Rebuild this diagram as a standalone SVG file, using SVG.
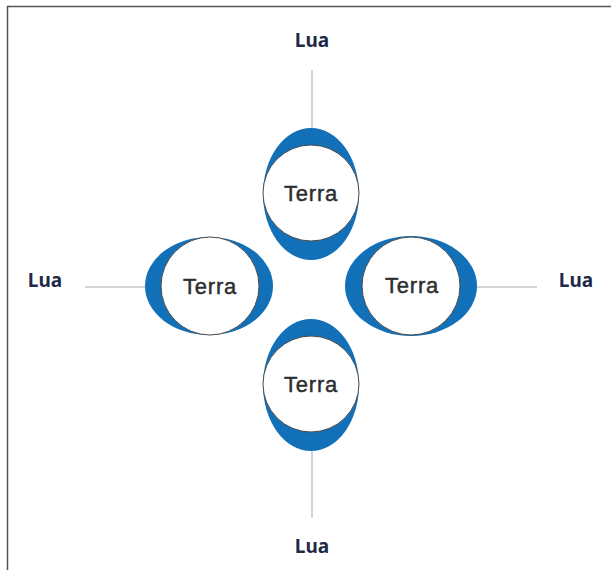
<svg xmlns="http://www.w3.org/2000/svg" width="611" height="570" viewBox="0 0 611 570">
  <style>
    .bulge { fill: #1170b8; }
    .earth { fill: #ffffff; stroke: #4a4a4a; stroke-width: 1; }
    .terra { font-family: "Liberation Sans", Arial, sans-serif; font-size: 22px; fill: #2e2e2e; stroke: #2e2e2e; stroke-width: 0.45; text-anchor: middle; letter-spacing: 0.8px; }
    .lua { font-family: "Noto Sans", "Open Sans", sans-serif; font-weight: bold; font-size: 19px; fill: #1e2a48; text-anchor: middle; }
    .link { stroke: #c4c4c4; stroke-width: 1.5; fill: none; }
  </style>
  <rect width="611" height="570" fill="#ffffff"/>
  <!-- frame -->
  <path d="M7.5 570 V6.5 H611" fill="none" stroke="#555555" stroke-width="1.5"/>

  <g id="connectors">
    <line class="link" x1="312" y1="70" x2="312" y2="128"/>
    <line class="link" x1="312" y1="451" x2="312" y2="518"/>
    <line class="link" x1="85" y1="287" x2="145" y2="287"/>
    <line class="link" x1="477" y1="287" x2="537" y2="287"/>
  </g>

  <g id="earth-top">
    <ellipse class="bulge" cx="311" cy="194" rx="48" ry="66"/>
    <circle class="earth" cx="311" cy="193" r="48"/>
    <text class="terra" x="311" y="201">Terra</text>
  </g>
  <g id="earth-left">
    <ellipse class="bulge" cx="209" cy="286" rx="64" ry="49"/>
    <circle class="earth" cx="210" cy="286" r="49"/>
    <text class="terra" x="210" y="294">Terra</text>
  </g>
  <g id="earth-right">
    <ellipse class="bulge" cx="411" cy="286" rx="66" ry="50"/>
    <circle class="earth" cx="411" cy="286" r="49"/>
    <text class="terra" x="412" y="293">Terra</text>
  </g>
  <g id="earth-bottom">
    <ellipse class="bulge" cx="311" cy="385" rx="48" ry="66"/>
    <circle class="earth" cx="311" cy="384" r="48"/>
    <text class="terra" x="311" y="392">Terra</text>
  </g>

  <g id="moon-top"><text class="lua" x="312" y="47">Lua</text></g>
  <g id="moon-bottom"><text class="lua" x="312" y="553">Lua</text></g>
  <g id="moon-left"><text class="lua" x="45" y="287">Lua</text></g>
  <g id="moon-right"><text class="lua" x="576" y="287">Lua</text></g>
</svg>
